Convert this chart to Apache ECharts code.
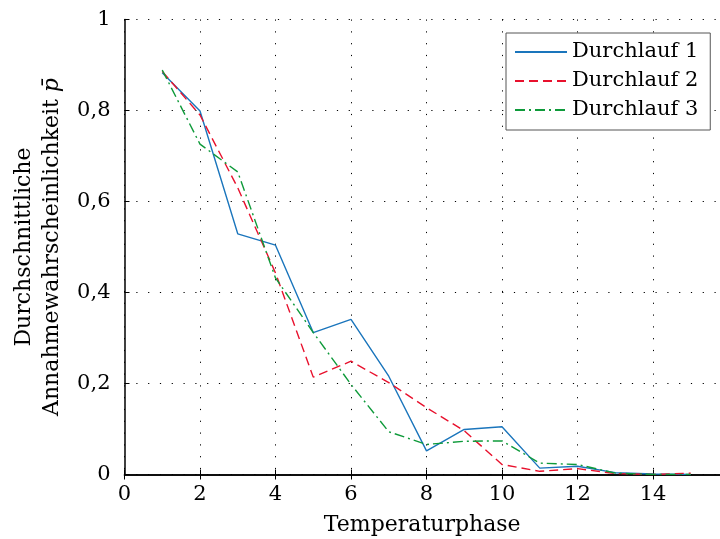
<!DOCTYPE html>
<html>
<head>
<meta charset="utf-8">
<script src="https://cdn.jsdelivr.net/npm/echarts@6/dist/echarts.min.js"></script>
<style>html,body{margin:0;padding:0;background:#fff}#c{width:720px;height:539px}</style>
</head>
<body>
<div id="c"></div>
<script>
var phases = [1,2,3,4,5,6,7,8,9,10,11,12,13,14,15];
var lauf1 = [0.883,0.799,0.529,0.504,0.312,0.341,0.216,0.052,0.099,0.105,0.014,0.018,0.004,0.001,0.0];
var lauf2 = [0.886,0.790,0.630,0.443,0.214,0.249,0.202,0.147,0.096,0.022,0.007,0.013,0.002,0.0,0.003];
var lauf3 = [0.889,0.726,0.665,0.432,0.312,0.198,0.094,0.066,0.073,0.074,0.025,0.022,0.003,0.0,0.0];
var seriesNames = ['Durchlauf 1','Durchlauf 2','Durchlauf 3'];
var xTicks = [0,2,4,6,8,10,12,14];
var yTicks = [0,0.2,0.4,0.6,0.8,1];

function pairs(ys){ return phases.map(function(x,i){ return [x, ys[i]]; }); }
var FONT = 'DejaVu Serif';
var XMAX = 15.775;
var chart = echarts.init(document.getElementById('c'));
var dot = {color:'#000', width:1, type:[1.2,10.6]};
chart.setOption({
  animation:false,
  backgroundColor:'#fff',
  textStyle:{fontFamily:FONT, color:'#000'},
  grid:{left:124.5, top:19.5, width:595.5, height:455, containLabel:false, outerBoundsMode:'none'},
  legend:{
    orient:'vertical', left:506, top:33,
    padding:[8,12,9,8], itemGap:7, itemWidth:52, itemHeight:14,
    backgroundColor:'#fff', borderColor:'#555', borderWidth:1, borderRadius:0,
    itemStyle:{opacity:0},
    textStyle:{fontFamily:FONT, fontSize:21, color:'#000', lineHeight:22},
    data:seriesNames
  },
  xAxis:[{
    type:'value', min:0, max:XMAX, interval:2,
    axisLine:{show:true, onZero:false, lineStyle:{color:'#000', width:1.5}},
    axisTick:{show:true, inside:true, length:5, lineStyle:{color:'#000'}},
    axisLabel:{fontFamily:FONT, fontSize:21, color:'#000', margin:10, showMaxLabel:false,
      formatter:function(v){ return xTicks.indexOf(v)>=0 ? String(v) : ''; }},
    splitLine:{show:true, lineStyle:dot},
    name:'Temperaturphase', nameLocation:'middle', nameGap:40,
    nameTextStyle:{fontFamily:FONT, fontSize:22, color:'#000'}
  },{
    type:'value', min:0, max:XMAX, interval:2, position:'top',
    axisLine:{show:true, lineStyle:{color:'#000', width:1.5}},
    axisTick:{show:true, inside:true, length:5, lineStyle:{color:'#000'}},
    axisLabel:{show:false}, splitLine:{show:false}
  }],
  yAxis:{
    type:'value', min:0, max:1, interval:0.2,
    axisLine:{show:true, lineStyle:{color:'#000', width:1.5}},
    axisTick:{show:true, inside:true, length:5, lineStyle:{color:'#000'}},
    axisLabel:{fontFamily:FONT, fontSize:21, color:'#000', margin:14,
      formatter:function(v){ var r=Math.round(v*10)/10; return yTicks.indexOf(r)>=0 ? String(r).replace('.',',') : ''; }},
    splitLine:{show:true, lineStyle:dot},
    name:'Durchschnittliche\nAnnahmewahrscheinlichkeit {p|p\u0304}', nameLocation:'middle', nameGap:57,
    nameTextStyle:{fontFamily:FONT, fontSize:22, color:'#000', lineHeight:28,
      rich:{p:{fontFamily:FONT, fontSize:22, fontStyle:'italic', color:'#000'}}}
  },
  series:[
    {name:seriesNames[0], type:'line', data:pairs(lauf1), symbol:'none', showSymbol:false,
     lineStyle:{color:'#1a75bc', width:1.4, type:'solid'}, itemStyle:{color:'#1a75bc'}},
    {name:seriesNames[1], type:'line', data:pairs(lauf2), symbol:'none', showSymbol:false,
     lineStyle:{color:'#e8112d', width:1.4, type:[9,5]}, itemStyle:{color:'#e8112d'}},
    {name:seriesNames[2], type:'line', data:pairs(lauf3), symbol:'none', showSymbol:false,
     lineStyle:{color:'#0e9a3a', width:1.4, type:[10,4,2,4]}, itemStyle:{color:'#0e9a3a'}}
  ]
});
</script>
</body>
</html>
